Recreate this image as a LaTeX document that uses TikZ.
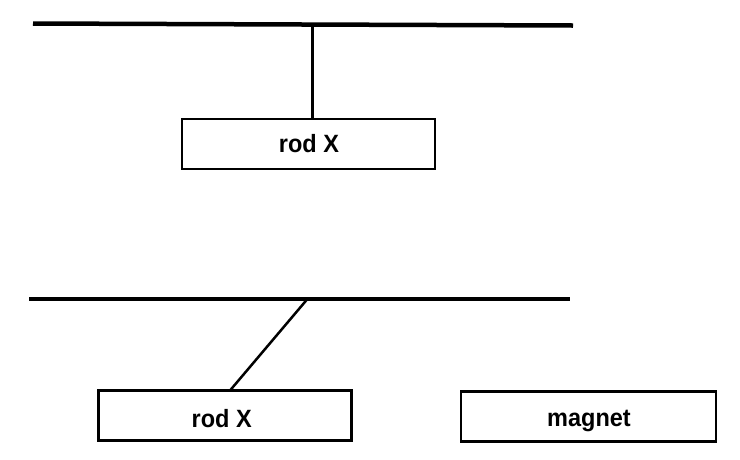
\documentclass[tikz,border=0pt]{standalone}
\usepackage{fontspec}
\setmainfont{Liberation Sans}
\newfontfamily\lblfont[FakeStretch=0.94]{Liberation Sans}
\begin{document}
\begin{tikzpicture}[x=1pt,y=-1pt,
  bar/.style={line width=4.5pt,black},
  boxnode/.style={draw=black,line width=2.2pt,fill=white,minimum width=253pt,minimum height=50pt,inner sep=0pt},
  lbl/.style={anchor=base,inner sep=0pt,font=\lblfont\fontsize{25}{29}\selectfont\bfseries}]
\useasboundingbox (0,0) rectangle (740,459);
% top scene
\coordinate (tbL) at (33,23.5);
\coordinate (tbR) at (573,25.5);
\coordinate (thang) at (312,25);
\draw[bar] (tbL) -- (tbR);
\node[boxnode] (rod1) at (308.5,144) {};
\node[lbl] (rod1t) at (309,152.3) {rod X};
\draw[line width=3pt] (thang) -- (thang |- rod1.north);
% bottom scene
\coordinate (bbL) at (29,299);
\coordinate (bbR) at (570,299);
\coordinate (bhang) at (307,299.5);
\draw[line width=4pt] (bbL) -- (bbR);
\node[boxnode] (rod2) at (225,415.5) {};
\node[lbl] (rod2t) at (221.7,427) {rod X};
\node[boxnode,minimum width=255pt] (mag) at (588.5,416.5) {};
\node[lbl] (magt) at (589,426) {magnet};
\draw[line width=2.5pt] (bhang) -- (230,390.5);
\end{tikzpicture}
\end{document}
